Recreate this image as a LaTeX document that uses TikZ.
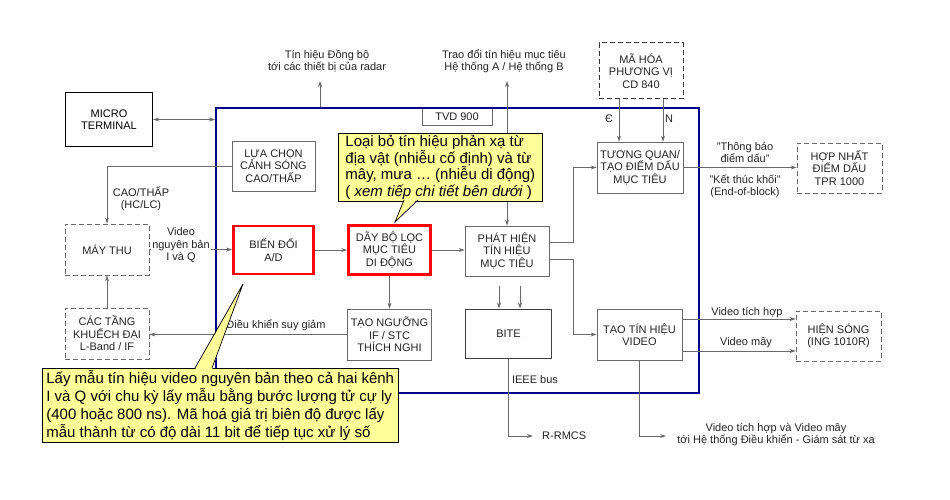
\documentclass[tikz,border=0pt]{standalone}
\usepackage{fontspec}
\setmainfont{Liberation Sans}
\usepackage{tikz}
\usetikzlibrary{arrows.meta,backgrounds,calc}
\definecolor{frameblue}{RGB}{0,0,140}
\definecolor{linegray}{RGB}{105,105,105}
\definecolor{txtgray}{RGB}{35,35,35}
\definecolor{noteyellow}{RGB}{255,255,153}
\tikzset{
  blk/.style={draw=linegray,line width=0.8pt,text=txtgray,align=center,
    font=\fontsize{11}{12.5}\selectfont,minimum width=84pt,minimum height=51pt,inner sep=1pt},
  blkdash/.style={blk,dash pattern=on 5pt off 3pt},
  blkred/.style={blk,draw=red,line width=2.6pt,minimum width=80pt,minimum height=48pt},
  conn/.style={draw=linegray,line width=0.8pt,>={Stealth[length=6pt,width=4pt]}},
  lbl/.style={text=txtgray,align=center,font=\fontsize{11}{12.5}\selectfont,inner sep=1pt},
  note/.style={fill=noteyellow,draw=black,line width=0.7pt,align=left,anchor=north west,
    inner xsep=4pt,inner ysep=2pt},
}
\begin{document}
\begin{tikzpicture}[x=1pt,y=-1pt]
\useasboundingbox (0,0) rectangle (950,500);

\node[blk,minimum width=70pt,minimum height=17pt] (tvd) at (457,116.5) {TVD 900};
\node[draw=frameblue,line width=2pt,minimum width=483pt,minimum height=285pt,inner sep=0pt] (frame) at (457.5,250.5) {};

\node[blk,draw=black,text=black,line width=1.4pt,minimum width=87pt,minimum height=54pt] (micro) at (109,119.5) {MICRO\\TERMINAL};
\node[blk,minimum width=83pt,minimum height=50pt] (luachon) at (273.5,166) {LỰA CHỌN\\CẢNH SÓNG\\CAO/THẤP};
\node[blkdash] (maythu) at (107,249.5) {MÁY THU};
\node[blkdash] (cactang) at (107,333.5) {CÁC TẦNG\\KHUẾCH ĐẠI\\L-Band / IF};
\node[blkred] (adconv) at (273.5,250) {BIẾN ĐỔI\\A/D};
\node[blkred,minimum width=82pt,minimum height=49pt] (mti) at (389.5,250) {DÃY BỘ LỌC\\MỤC TIÊU\\DI ĐỘNG};
\node[blk] (nguong) at (389.5,334.5) {TẠO NGƯỠNG\\IF / STC\\THÍCH NGHI};
\node[blk,minimum height=50pt] (phathien) at (507,251) {PHÁT HIỆN\\TÍN HIỆU\\MỤC TIÊU};
\node[blk,draw=black!75,line width=1pt,minimum width=86pt,minimum height=49pt] (bite) at (508.5,333.5) {BITE};
\node[blk,minimum width=86pt] (tuongquan) at (640,167.5) {TƯƠNG QUAN/\\TẠO ĐIỂM DẤU\\MỤC TIÊU};
\node[blk,minimum width=85pt] (taotin) at (639.5,334.5) {TẠO TÍN HIỆU\\VIDEO};
\node[blkdash,draw=black!80,line width=1pt,minimum height=56pt] (mahoa) at (641,71) {MÃ HÓA\\PHƯƠNG VỊ\\CD 840};
\node[blkdash,minimum width=85pt,minimum height=50pt] (hopnhat) at (839.5,168) {HỢP NHẤT\\ĐIỂM DẤU\\TPR 1000};
\node[blkdash,minimum width=85pt,minimum height=50pt] (hiensong) at (838.5,336) {HIỆN SÓNG\\(ING 1010R)};

\coordinate (dongbo) at (320,81);
\coordinate (traodoi) at (507,81);
\coordinate (bitein1) at (499,286);
\coordinate (bitein2) at (520,286);
\node[lbl] (dongbolbl) at (327,61) {Tín hiệu Đồng bộ\\tới các thiết bị của radar};
\node[lbl] (traodoilbl) at (504,61) {Trao đổi tín hiệu mục tiêu\\Hệ thống A / Hệ thống B};

\draw[conn,<->] (micro.east) -- (micro.east -| frame.west);
\draw[conn,->] (dongbo |- frame.north) -- (dongbo);
\draw[conn,<->] (phathien.north) -- (traodoi);
\draw[conn,->] (luachon.west) -| (maythu.north);
\node[lbl] (hclc) at (141,198.5) {CAO/THẤP\\(HC/LC)};
\draw[conn,->] (maythu.east) -- (maythu.east -| adconv.west);
\node[lbl,fill=white] (videolbl) at (181,245.5) {Video\\nguyên bản\\I và Q};
\draw[conn,->] (cactang) -- (maythu);
\draw[conn,->] (nguong.west) -- (nguong.west -| cactang.east);
\node[lbl] (suygiam) at (276,325) {Điều khiển suy giảm};
\draw[conn,->] (adconv) -- (mti);
\draw[conn,->] (mti) -- (nguong);
\draw[conn,->] (mti.east) -- (mti.east -| phathien.west);
\draw[conn,->] ([yshift=9pt]phathien.east) -- ++(24,0) |- (tuongquan.west);
\draw[conn,->] ([yshift=-8pt]phathien.east) -- ++(24,0) |- (taotin.west);
\draw[conn,->] ([xshift=-22pt]mahoa.south) -- ([xshift=-22pt]mahoa.south |- tuongquan.north);
\draw[conn,->] ([xshift=22pt]mahoa.south) -- ([xshift=22pt]mahoa.south |- tuongquan.north);
\node[lbl] (elbl) at (609,119) {Є};
\node[lbl] (nlbl) at (669,119) {N};
\draw[conn,->] (tuongquan.east) -- (tuongquan.east -| hopnhat.west);
\node[lbl] (thongbao) at (745,152.5) {"Thông báo\\điểm dấu"};
\node[lbl] (ketthuc) at (745,186.5) {"Kết thúc khối"\\(End-of-block)};
\draw[conn,->] ([yshift=15.5pt]taotin.east) -- ([yshift=15.5pt]taotin.east -| hiensong.west);
\draw[conn,->] ([yshift=-16.5pt]taotin.east) -- ([yshift=-16.5pt]taotin.east -| hiensong.west);
\node[lbl] (vtichhop) at (747,313) {Video  tích hợp};
\node[lbl] (vmay) at (746,343) {Video  mây};
\draw[conn,->] (bitein1) -- (bitein1 |- bite.north);
\draw[conn,->] (bitein2) -- (bitein2 |- bite.north);
\node[lbl,anchor=west] (rrmcs) at (541,436) {R-RMCS};
\draw[conn,->] (bite.south) |- ([xshift=-8pt]rrmcs.west);
\node[lbl] (ieee) at (535,380) {IEEE bus};
\node[lbl] (remote) at (776,434.5) {Video tích hợp và Video mây\\tới Hệ thống Điều khiển - Giám sát từ xa};
\draw[conn,->] (taotin.south) |- ([xshift=-10pt,yshift=-1.5pt]remote.west);

\node[note,font=\fontsize{15}{16.5}\selectfont,minimum width=204pt,minimum height=67pt] (notemti) at (338,133)
  {Loại bỏ tín hiệu phản xạ từ\\địa vật (nhiễu cố định) và từ\\mây, mưa … (nhiễu di động)\\( \textit{xem tiếp chi tiết bên dưới} )};
\coordinate (tipmti) at (395,222);
\fill[noteyellow] (404,198.5) -- (tipmti) -- (418,198.5) -- cycle;
\draw[line width=0.7pt] (404,200) -- (tipmti) -- (418,200);

\node[note,font=\fontsize{15}{18}\selectfont,minimum width=355pt,minimum height=74pt] (notead) at (42,368)
  {Lấy mẫu tín hiệu video nguyên bản theo cả hai kênh\\I và Q với chu kỳ lấy mẫu bằng bước lượng tử cự ly\\(400 hoặc 800 ns). Mã hoá giá trị biên độ được lấy\\mẫu thành từ có độ dài 11 bit để tiếp tục xử lý số};
\coordinate (tipad) at (243,284);
\fill[noteyellow] (195,369.5) -- (tipad) -- (212,369.5) -- cycle;
\draw[line width=0.7pt] (195,368) -- (tipad) -- (212,368);
\end{tikzpicture}
\end{document}
